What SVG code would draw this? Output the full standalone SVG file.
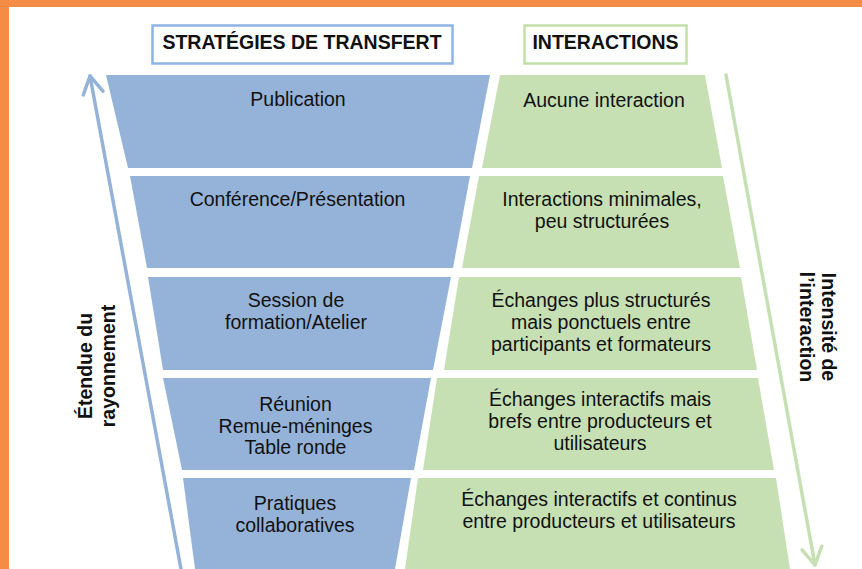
<svg xmlns="http://www.w3.org/2000/svg" width="862" height="569" viewBox="0 0 862 569">
  <style>
    .t { font-family: "Liberation Sans", Arial, sans-serif; font-size: 19.5px; fill: #111; text-anchor: middle; }
    .b { font-weight: bold; }
    .blue { fill: #95b3d8; }
    .green { fill: #c6e0b4; }
    .tb { fill: #fff; stroke: #8fb4e3; stroke-width: 2.5; }
    .tg { fill: #fff; stroke: #c3e0a8; stroke-width: 2.5; }
    .arb { fill: none; stroke: #95b3d8; stroke-width: 3.5; stroke-linecap: round; stroke-linejoin: round; }
    .arg { fill: none; stroke: #c6e0b4; stroke-width: 3.5; stroke-linecap: round; stroke-linejoin: round; }
  </style>
  <defs>
    <marker id="mb" viewBox="-20 -12 24 24" markerWidth="24" markerHeight="24" refX="0" refY="0" orient="auto" markerUnits="userSpaceOnUse" style="overflow:visible">
      <path d="M -17.3 -10 L 0 0 L -17.3 10" class="arb"/>
    </marker>
    <marker id="mg" viewBox="-20 -12 24 24" markerWidth="24" markerHeight="24" refX="0" refY="0" orient="auto" markerUnits="userSpaceOnUse" style="overflow:visible">
      <path d="M -17.3 -10 L 0 0 L -17.3 10" class="arg"/>
    </marker>
  </defs>

  <!-- frame -->
  <rect x="0" y="0" width="862" height="569" fill="#ffffff"/>
  <rect x="0" y="0" width="862" height="7" fill="#f58c45"/>
  <rect x="0" y="0" width="9" height="569" fill="#f58c45"/>

  <!-- headers -->
  <g id="header-strategies">
    <rect class="tb" x="152.5" y="25.5" width="300" height="38"/>
    <text class="t b" x="302" y="48.5">STRATÉGIES DE TRANSFERT</text>
  </g>
  <g id="header-interactions">
    <rect class="tg" x="524.5" y="25.5" width="162" height="38"/>
    <text class="t b" x="605.5" y="48.5">INTERACTIONS</text>
  </g>

  <!-- connectors (axis arrows) -->
  <g id="connectors">
    <line class="arb" x1="181" y1="569" x2="90" y2="76" marker-end="url(#mb)"/>
    <line class="arg" x1="726" y1="75" x2="815" y2="565" marker-end="url(#mg)"/>
  </g>

  <!-- axis labels -->
  <g id="label-etendue">
    <text class="t b" transform="translate(92 366) rotate(-90)" x="0" y="0">Étendue du</text>
    <text class="t b" transform="translate(115 366) rotate(-90)" x="0" y="0">rayonnement</text>
  </g>
  <g id="label-intensite">
    <text class="t b" transform="translate(822 327) rotate(90)" x="0" y="0">Intensité de</text>
    <text class="t b" transform="translate(800 327) rotate(90)" x="0" y="0">l’interaction</text>
  </g>

  <!-- strategies (blue) -->
  <g id="s1">
    <polygon class="blue" points="106,75 490,75 472,168 128,168"/>
    <text class="t" x="298" y="106">Publication</text>
  </g>
  <g id="s2">
    <polygon class="blue" points="130,176 470,176 453,268 147,268"/>
    <text class="t" x="297.5" y="206">Conférence/Présentation</text>
  </g>
  <g id="s3">
    <polygon class="blue" points="148,277 451,277 433,370 163,370"/>
    <text class="t" x="296" y="307">Session de</text>
    <text class="t" x="296" y="329">formation/Atelier</text>
  </g>
  <g id="s4">
    <polygon class="blue" points="163,378 431,378 414,470 182,470"/>
    <text class="t" x="295.5" y="411">Réunion</text>
    <text class="t" x="295.5" y="433">Remue-méninges</text>
    <text class="t" x="295.5" y="454">Table ronde</text>
  </g>
  <g id="s5">
    <polygon class="blue" points="183,478 411,478 395,569 195,569"/>
    <text class="t" x="295" y="510">Pratiques</text>
    <text class="t" x="295" y="532">collaboratives</text>
  </g>

  <!-- interactions (green) -->
  <g id="i1">
    <polygon class="green" points="500,75 705,75 722,168 482,168"/>
    <text class="t" x="604" y="107">Aucune interaction</text>
  </g>
  <g id="i2">
    <polygon class="green" points="479,176 723,176 740,268 462,268"/>
    <text class="t" x="602" y="206">Interactions minimales,</text>
    <text class="t" x="602" y="228">peu structurées</text>
  </g>
  <g id="i3">
    <polygon class="green" points="459,277 741,277 757,370 444,370"/>
    <text class="t" x="601" y="307">Échanges plus structurés</text>
    <text class="t" x="601" y="329">mais ponctuels entre</text>
    <text class="t" x="601" y="351">participants et formateurs</text>
  </g>
  <g id="i4">
    <polygon class="green" points="437,378 758,378 774,470 423,470"/>
    <text class="t" x="600" y="406">Échanges interactifs mais</text>
    <text class="t" x="600" y="428">brefs entre producteurs et</text>
    <text class="t" x="600" y="450">utilisateurs</text>
  </g>
  <g id="i5">
    <polygon class="green" points="418,478 776,478 790,569 405,569"/>
    <text class="t" x="599" y="506">Échanges interactifs et continus</text>
    <text class="t" x="599" y="528">entre producteurs et utilisateurs</text>
  </g>
</svg>
